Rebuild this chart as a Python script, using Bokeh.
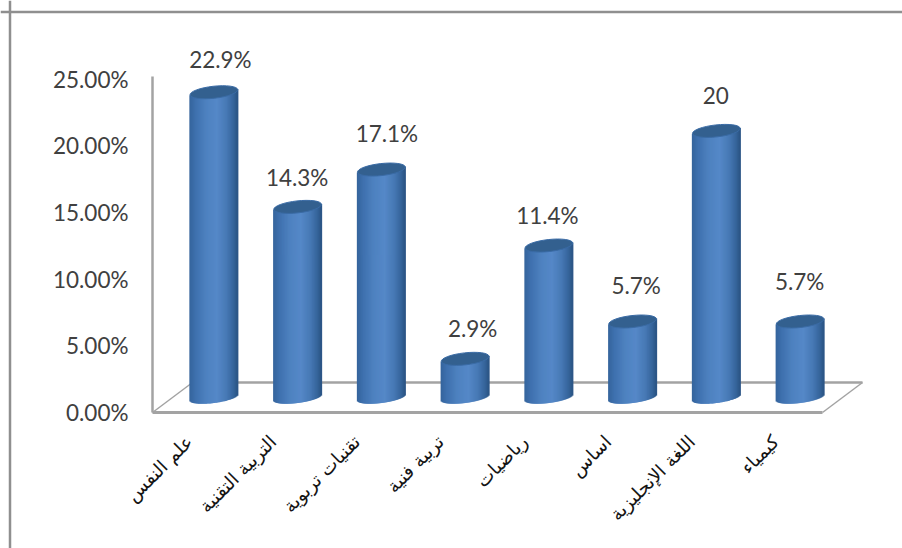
import numpy as np
from bokeh.plotting import figure
from bokeh.models import ColumnDataSource, FixedTicker, Span
from bokeh.core.properties import value
from bokeh.embed import file_html
from bokeh.resources import INLINE

categories = ["علم النفس", "التربية التقنية", "تقنيات تربوية", "تربية فنية",
              "رياضيات", "اساس", "اللغة الإنجليزية", "كيمياء"]
values = [22.9, 14.3, 17.1, 2.9, 11.4, 5.7, 20, 5.7]
value_labels = ["22.9%", "14.3%", "17.1%", "2.9%", "11.4%", "5.7%", "20", "5.7%"]
y_ticks = [0, 5, 10, 15, 20, 25]
y_tick_labels = ["0.00%", "5.00%", "10.00%", "15.00%", "20.00%", "25.00%"]

label_nudge_x = [6, -1, 5, 7, -2, 3, -1, -1]
label_nudge_y = [33, 29, 36, 30, 30, 36, 35, 40]

W, H = 902, 548
ORIGIN_X, ORIGIN_Y = 152, 412          # pixel of the chart's zero corner
PX_X, PX_Y = 83.75, 13.33
DX, DY = 40 / PX_X, 30 / PX_Y          # depth of the 3-D floor in data units
GREY = "#a3a3a3"
TXT = "#404040"
FONT = "Lato"

p = figure(width=W, height=H, output_backend="svg", toolbar_location=None,
           x_range=(-ORIGIN_X / PX_X, (W - ORIGIN_X) / PX_X),
           y_range=((ORIGIN_Y - H) / PX_Y, ORIGIN_Y / PX_Y),
           min_border=0, outline_line_color=None, background_fill_color="white")
p.grid.visible = False

# outer frame of the chart
p.add_layout(Span(location=(9.5 - ORIGIN_X) / PX_X, dimension="height",
                  line_color="#8f8f8f", line_width=2.5))
p.add_layout(Span(location=(ORIGIN_Y - 11.5) / PX_Y, dimension="width",
                  line_color="#8f8f8f", line_width=2.5))

# floor of the 3-D chart
n = len(categories)
p.line([DX, n + DX], [DY, DY], line_color=GREY, line_width=2.5)
p.line([0, DX], [0, DY], line_color=GREY, line_width=1.5)
p.line([n, n + DX], [0, DY], line_color=GREY, line_width=1.5)
p.line([0, n], [0, 0], line_color=GREY, line_width=3)

# cylinders: thin vertical strips shaded across the width
HALF = 24
TILT = 3.0
MINOR = 5.5
CENTER_SHIFT = -0.5 / PX_X
STOPS_T = [-1.0, -0.75, -0.3, 0.15, 0.55, 0.85, 1.0]
STOPS_C = [(0x35, 0x64, 0x9c), (0x3e, 0x70, 0xae), (0x4e, 0x82, 0xc0),
           (0x55, 0x88, 0xc8), (0x47, 0x79, 0xb5), (0x35, 0x64, 0x9a), (0x2b, 0x54, 0x84)]

xs, tops, bottoms, colors = [], [], [], []
ts = np.linspace(-0.98, 0.98, 48)
for i, v in enumerate(values):
    cx = i + 0.5 + DX / 2 + CENTER_SHIFT
    base = DY / 2
    for t in ts:
        xs.append(cx + t * HALF / PX_X)
        tops.append(v + base + TILT * t / PX_Y)
        bottoms.append(base + (TILT * t - MINOR * np.sqrt(max(0, 1 - t * t))) / PX_Y)
        c = [np.interp(t, STOPS_T, [s[k] for s in STOPS_C]) for k in range(3)]
        colors.append("#%02x%02x%02x" % tuple(int(round(x)) for x in c))
p.vbar(x=xs, top=tops, bottom=bottoms, width=2 / PX_X, fill_color=colors, line_color=None)

tops_src = ColumnDataSource(dict(x=[i + 0.5 + DX / 2 + CENTER_SHIFT for i in range(n)],
                                 y=[v + DY / 2 for v in values]))
p.ellipse(x="x", y="y", source=tops_src,
          width={"value": 48, "units": "screen"}, height={"value": 12, "units": "screen"},
          angle=0.11, fill_color="#33608f", line_color="#3a6ba5", line_width=1)

# value labels
lab = ColumnDataSource(dict(x=[i + 0.5 + DX / 2 for i in range(n)],
                            y=[v + DY / 2 for v in values], t=value_labels,
                            dx=label_nudge_x, dy=[-d for d in label_nudge_y]))
p.text(x="x", y="y", text="t", source=lab, x_offset="dx", y_offset="dy",
       text_font=value(FONT), text_font_size="22.5px", text_color=TXT,
       text_align="center", text_baseline="middle")

# axes
ya = p.yaxis[0]
ya.fixed_location = 0
ya.ticker = FixedTicker(ticks=y_ticks)
ya.major_label_overrides = {t: l for t, l in zip(y_ticks, y_tick_labels)}
ya.bounds = (0, 25.2)
ya.axis_line_color = GREY
ya.axis_line_width = 2.5
ya.major_tick_line_color = None
ya.minor_tick_line_color = None
ya.major_label_standoff = 18
ya.major_label_text_font = FONT
ya.major_label_text_font_size = "22.5px"
ya.major_label_text_color = TXT

xa = p.xaxis[0]
xa.fixed_location = 0
x_ticks = [i + 0.5 - 5 / PX_X for i in range(n)]
xa.ticker = FixedTicker(ticks=x_ticks)
xa.major_label_overrides = {t: l for t, l in zip(x_ticks, categories)}
xa.major_label_orientation = np.pi / 4
xa.axis_line_color = None
xa.major_tick_line_color = None
xa.minor_tick_line_color = None
xa.major_label_standoff = 20
xa.major_label_text_font = "DejaVu Sans"
xa.major_label_text_font_size = "18.5px"
xa.major_label_text_color = "#141414"

open("out.html", "w").write(file_html(p, INLINE))
